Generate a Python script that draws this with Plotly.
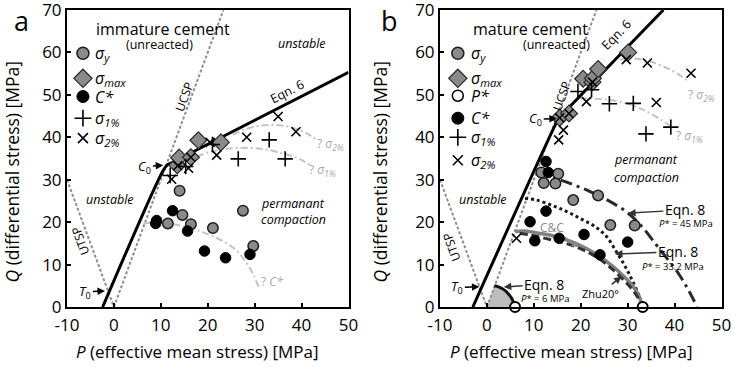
import plotly.graph_objects as go

# ---------------- data: panel a (immature cement) ----------------
a_sy_P = [14.0, 14.6, 11.5, 16.4, 21.1, 27.5, 29.7]
a_sy_Q = [27.4, 21.7, 19.7, 19.5, 18.6, 22.7, 14.4]
a_cs_P = [9.1, 8.9, 12.5, 15.7, 19.3, 23.8, 29.0]
a_cs_Q = [20.4, 19.7, 22.7, 17.9, 13.2, 11.6, 12.4]
a_smax_P = [13.5, 13.9, 16.4, 18.0, 22.8]
a_smax_Q = [33.4, 35.2, 35.3, 39.3, 38.8]
a_s1_P = [12.0, 15.3, 21.0, 26.5, 33.1, 36.5]
a_s1_Q = [31.0, 33.1, 38.3, 34.9, 39.4, 34.9]
a_s2_P = [12.3, 13.6, 15.9, 16.4, 20.5, 21.9, 28.3, 35.0, 38.8]
a_s2_Q = [30.1, 33.3, 32.7, 35.3, 38.8, 35.8, 40.0, 44.9, 41.3]

a_eq6_P = [-2.4, 10.5, 11.3, 12.3, 50.0]
a_eq6_Q = [0.0, 32.2, 33.4, 34.0, 55.3]
a_s2c_P = [25.4, 28.0, 31.0, 34.7, 38.0, 41.0, 43.2]
a_s2c_Q = [40.6, 41.9, 42.7, 42.9, 42.3, 41.0, 39.4]
a_s1c_P = [17.7, 20.0, 24.0, 28.0, 32.0, 36.0, 39.5, 41.8]
a_s1c_Q = [35.4, 36.4, 37.3, 37.5, 37.2, 36.2, 34.9, 33.5]
a_csc_P = [6.3, 9.0, 12.0, 15.5, 19.0, 22.0, 24.5, 26.5, 28.3, 29.7, 30.8]
a_csc_Q = [19.7, 19.9, 19.6, 18.9, 17.6, 16.2, 14.7, 12.9, 10.3, 7.7, 4.8]

# ---------------- data: panel b (mature cement) ----------------
b_sy_P = [11.6, 15.2, 12.1, 14.6, 18.4, 23.7, 26.3, 31.5]
b_sy_Q = [31.7, 31.4, 29.2, 29.1, 25.2, 26.3, 19.3, 19.2]
b_cs_P = [12.6, 13.1, 12.6, 9.2, 15.4, 10.2, 20.7, 24.1, 30.0]
b_cs_Q = [34.3, 31.7, 22.6, 20.1, 16.2, 15.6, 17.1, 12.3, 15.3]
b_smax_P = [15.5, 17.5, 20.5, 22.5, 22.6, 23.7, 30.1]
b_smax_Q = [44.6, 45.6, 53.8, 53.0, 53.9, 56.1, 60.0]
b_s1_P = [19.4, 22.3, 26.1, 31.2, 33.9, 39.2]
b_s1_Q = [50.8, 51.2, 47.9, 48.0, 40.8, 42.4]
b_s2_P = [15.5, 17.5, 22.5, 29.7, 34.2, 43.5, 36.1, 21.2, 16.3, 15.3, 6.3]
b_s2_Q = [44.6, 45.6, 53.0, 58.3, 57.5, 55.1, 48.2, 48.4, 41.7, 39.4, 16.2]
b_pstar_P = [6.0, 33.2]
b_pstar_Q = [0.0, 0.0]

b_eq6_P = [-3.0, 14.6, 15.3, 16.2, 37.6]
b_eq6_Q = [0.0, 43.0, 44.4, 45.5, 70.0]
b_s2c_P = [28.3, 30.0, 32.0, 35.0, 38.0, 41.0, 42.9]
b_s2c_Q = [58.3, 58.5, 58.5, 57.8, 56.5, 54.7, 53.1]
b_s1c_P = [19.8, 23.0, 26.2, 29.0, 32.0, 34.0, 37.0, 39.3]
b_s1c_Q = [49.2, 49.1, 48.8, 48.2, 47.1, 46.1, 44.2, 42.5]
b_eq845_P = [10.6, 14.0, 18.0, 22.0, 26.0, 30.0, 33.0, 36.0, 38.5, 41.0, 43.0, 44.8]
b_eq845_Q = [31.5, 30.5, 29.0, 27.2, 25.0, 22.2, 19.0, 14.8, 11.3, 7.6, 3.9, 0.0]
b_eq833_P = [8.1, 10.6, 14.0, 17.0, 20.0, 23.0, 25.5, 27.6, 29.5, 31.0, 32.3, 33.2]
b_eq833_Q = [25.6, 25.2, 23.9, 22.5, 20.8, 19.0, 16.6, 13.0, 9.5, 6.2, 3.0, 0.0]
b_cc_P = [6.0, 8.1, 11.0, 14.8, 18.0, 21.2, 24.0, 26.9, 29.2, 31.2, 32.4, 33.2]
b_cc_Q = [17.8, 17.9, 17.4, 16.6, 15.4, 13.8, 11.9, 9.5, 7.2, 4.8, 2.6, 0.0]
b_zhu_P = [7.0, 9.0, 12.0, 15.0, 18.0, 21.0, 24.0, 26.7, 29.0, 31.0, 32.3, 33.1]
b_zhu_Q = [17.4, 17.0, 16.3, 15.5, 14.6, 13.2, 11.3, 8.9, 6.5, 4.1, 2.0, 0.0]
b_eq86_P = [1.6, 2.6, 3.6, 4.5, 5.3, 6.0]
b_eq86_Q = [5.0, 4.7, 4.1, 3.2, 2.0, 0.0]

# failure-envelope guide lines (both panels)
ucsp_P = [0.0, 23.33]
ucsp_Q = [0.0, 70.0]
utsp_P = [-10.0, 0.0]
utsp_Q = [30.0, 0.0]

x_ticks = [-10, 0, 10, 20, 30, 40, 50]
x_ticklabels = ["-10", "0", "10", "20", "30", "40", "50"]
y_ticks = [0, 10, 20, 30, 40, 50, 60, 70]
y_ticklabels = ["0", "10", "20", "30", "40", "50", "60", "70"]

FONT = "Open Sans"
GRAYM = "#8a8a8a"
fig = go.Figure()


def line(P, Q, ax, color, width, dash="solid", shape="linear"):
    fig.add_trace(go.Scatter(x=P, y=Q, xaxis=ax[0], yaxis=ax[1], mode="lines",
                             line=dict(color=color, width=width, dash=dash, shape=shape),
                             showlegend=False, hoverinfo="skip"))


def pts(P, Q, ax, symbol, size, fill, lcolor, lwidth, clip=True):
    fig.add_trace(go.Scatter(x=P, y=Q, xaxis=ax[0], yaxis=ax[1], mode="markers",
                             marker=dict(symbol=symbol, size=size, color=fill,
                                         line=dict(color=lcolor, width=lwidth)),
                             cliponaxis=clip, showlegend=False, hoverinfo="skip"))


A = ("x", "y")
B = ("x2", "y2")

# ---- panel a lines
line(ucsp_P, ucsp_Q, A, "#8f8f8f", 2, "3px,2px")
line(utsp_P, utsp_Q, A, "#8f8f8f", 2, "3px,2px")
line(a_s2c_P, a_s2c_Q, A, "#c4c4c4", 2, "7px,3px,2px,3px", "spline")
line(a_s1c_P, a_s1c_Q, A, "#c4c4c4", 2, "7px,3px,2px,3px", "spline")
line(a_csc_P, a_csc_Q, A, "#c4c4c4", 2, "7px,3px,2px,3px", "spline")
line(a_eq6_P, a_eq6_Q, A, "black", 3, "solid", "spline")

# ---- panel b lines
fig.add_trace(go.Scatter(x=[0.0] + b_eq86_P + [0.0], y=[0.0] + b_eq86_Q + [0.0],
                         xaxis="x2", yaxis="y2", mode="lines", fill="toself",
                         fillcolor="#bdbdbd", line=dict(width=0), showlegend=False,
                         hoverinfo="skip"))
line(ucsp_P, ucsp_Q, B, "#8f8f8f", 2, "3px,2px")
line(utsp_P, utsp_Q, B, "#8f8f8f", 2, "3px,2px")
line(b_s2c_P, b_s2c_Q, B, "#c4c4c4", 2, "7px,3px,2px,3px", "spline")
line(b_s1c_P, b_s1c_Q, B, "#c4c4c4", 2, "7px,3px,2px,3px", "spline")
line(b_eq845_P, b_eq845_Q, B, "#2a2a2a", 3, "12px,5px,3px,5px", "spline")
line(b_eq833_P, b_eq833_Q, B, "#1a1a1a", 3, "3px,3px", "spline")
line(b_cc_P, b_cc_Q, B, "#808080", 3.5, "solid", "spline")
line(b_zhu_P, b_zhu_Q, B, "#333333", 3, "8px,4px", "spline")
line(b_eq86_P, b_eq86_Q, B, "#111111", 3, "solid", "spline")
line(b_eq6_P, b_eq6_Q, B, "black", 3, "solid", "spline")

# ---- markers
for ax, sy, cs, smax, s1, s2 in [
    (A, (a_sy_P, a_sy_Q), (a_cs_P, a_cs_Q), (a_smax_P, a_smax_Q), (a_s1_P, a_s1_Q), (a_s2_P, a_s2_Q)),
    (B, (b_sy_P, b_sy_Q), (b_cs_P, b_cs_Q), (b_smax_P, b_smax_Q), (b_s1_P, b_s1_Q), (b_s2_P, b_s2_Q)),
]:
    pts(sy[0], sy[1], ax, "circle", 10.5, GRAYM, "#1e1e1e", 1.5)
    pts(cs[0], cs[1], ax, "circle", 10.5, "black", "black", 1)
    pts(smax[0], smax[1], ax, "diamond", 13, GRAYM, "#2a2a2a", 1.2)
    pts(s1[0], s1[1], ax, "cross-thin", 11, "black", "black", 1.6)
    pts(s2[0], s2[1], ax, "x-thin", 9, "black", "black", 1.6)
pts(b_pstar_P, b_pstar_Q, B, "circle", 10, "white", "black", 2, clip=False)

# ---- legends (drawn inside each panel)
leg_a = [("circle", 12, GRAYM, "#1e1e1e", 1.5, "<i>σ<sub>y</sub></i>"),
         ("diamond", 14, GRAYM, "#2a2a2a", 1.2, "<i>σ<sub>max</sub></i>"),
         ("circle", 12, "black", "black", 1, "<i>C*</i>"),
         ("cross-thin", 12, "black", "black", 1.6, "<i>σ<sub>1%</sub></i>"),
         ("x-thin", 10, "black", "black", 1.6, "<i>σ<sub>2%</sub></i>")]
leg_b = [leg_a[0], leg_a[1], ("circle", 11, "white", "black", 1.5, "<i>P*</i>"),
         leg_a[2], leg_a[3], leg_a[4]]
leg_a_Q = [59.8, 53.9, 49.6, 44.5, 39.8]
leg_b_Q = [59.8, 53.9, 49.8, 44.5, 40.0, 34.6]

annotations = []


def ann(x, y, text, size, xref="x", yref="y", color="black", angle=0, xanchor="center", yanchor="middle"):
    annotations.append(dict(x=x, y=y, xref=xref, yref=yref, text=text, showarrow=False,
                            font=dict(family=FONT, size=size, color=color), textangle=angle,
                            xanchor=xanchor, yanchor=yanchor))


def arrow(x, y, ax_, ay_, text, size, xref="x", yref="y", color="black", aw=1.5):
    annotations.append(dict(x=x, y=y, ax=ax_, ay=ay_, xref=xref, yref=yref, axref=xref, ayref=yref,
                            text=text, showarrow=True, arrowhead=2, arrowsize=1, arrowwidth=aw,
                            arrowcolor=color, font=dict(family=FONT, size=size, color="black")))


for ax, items, qs, mx, lx in [(A, leg_a, leg_a_Q, -6.6, -4.4), (B, leg_b, leg_b_Q, -6.2, -3.9)]:
    for (sym, sz, fc, lc, lw, lab), q in zip(items, qs):
        pts([mx], [q], ax, sym, sz, fc, lc, lw)
        ann(lx, q, lab, 16, ax[0], ax[1], xanchor="left")

# ---- panel a texts
ann(10.5, 65.6, "immature cement", 16)
ann(9.8, 61.8, "(unreacted)", 12.5)
ann(40.0, 62.2, "<i>unstable</i>", 12.5)
ann(-0.8, 25.4, "<i>unstable</i>", 12.5)
ann(38.2, 24.4, "<i>permanant</i>", 12.5)
ann(38.2, 20.7, "<i>compaction</i>", 12.5)
ann(36.9, 50.9, "Eqn. 6", 12.5, angle=-27)
ann(15.0, 49.6, "UCSP", 12, angle=-70)
ann(-7.1, 15.6, "UTSP", 12, angle=-110)
ann(46.1, 38.4, "? <i>σ<sub>2%</sub></i>", 12, color="#a8a8a8")
ann(44.5, 32.3, "? <i>σ<sub>1%</sub></i>", 12, color="#a8a8a8")
ann(33.6, 6.0, "? <i>C*</i>", 12, color="#a8a8a8")
arrow(10.5, 33.4, 6.6, 33.1, "<i>C</i><sub>0</sub>", 13)
arrow(-1.9, 3.8, -6.1, 3.6, "<i>T</i><sub>0</sub>", 13)

# ---- panel b texts
ann(9.2, 65.6, "mature cement", 16, "x2", "y2")
ann(14.8, 61.8, "(unreacted)", 12.5, "x2", "y2")
ann(-0.8, 25.4, "<i>unstable</i>", 12.5, "x2", "y2")
ann(34.0, 34.7, "<i>permanant</i>", 12.5, "x2", "y2")
ann(34.0, 30.6, "<i>compaction</i>", 12.5, "x2", "y2")
ann(27.6, 64.3, "Eqn. 6", 12.5, "x2", "y2", angle=-46)
ann(15.9, 49.6, "UCSP", 12, "x2", "y2", angle=-70)
ann(-7.5, 14.2, "UTSP", 12, "x2", "y2", angle=-110)
ann(45.7, 50.0, "? <i>σ<sub>2%</sub></i>", 12, "x2", "y2", color="#a8a8a8")
ann(43.2, 40.2, "? <i>σ<sub>1%</sub></i>", 12, "x2", "y2", color="#a8a8a8")
arrow(14.9, 44.4, 10.4, 44.3, "<i>C</i><sub>0</sub>", 13, "x2", "y2")
arrow(-1.6, 4.8, -6.3, 4.6, "<i>T</i><sub>0</sub>", 13, "x2", "y2")
arrow(30.1, 22.1, 42.2, 22.9, "Eqn. 8", 14, "x2", "y2", color="#333333")
ann(42.5, 19.7, "<i>P</i>* = 45 MPa", 9.5, "x2", "y2")
arrow(27.3, 12.5, 40.7, 13.0, "Eqn. 8", 14, "x2", "y2", color="#333333")
ann(39.7, 9.5, "<i>P</i>* = 33.2 MPa", 9.5, "x2", "y2")
arrow(3.6, 4.7, 12.2, 5.4, "Eqn. 8", 14, "x2", "y2", color="#333333")
ann(12.4, 2.0, "<i>P</i>* = 6 MPa", 9.5, "x2", "y2")
arrow(19.5, 14.1, 13.8, 18.8, "C&amp;C", 12, "x2", "y2", color="#8a8a8a", aw=1.3)
annotations[-1]["font"]["color"] = "#8a8a8a"
arrow(28.7, 7.2, 24.2, 3.2, "Zhu20°", 11, "x2", "y2", color="#333333")

# ---- axis titles & panel letters (paper coordinates)
W, H = 732.0, 367.0
for cx in (11.0, 379.0):
    ann(cx / W, 1 - 171.5 / H, "<i>Q</i> (differential stress) [MPa]", 17.5, "paper", "paper", angle=-90)
for cx in (196.7, 570.5):
    ann(cx / W, 1 - 351.7 / H, "<i>P</i> (effective mean stress) [MPa]", 17, "paper", "paper")
ann(21.0 / W, 1 - 20.0 / H, "a", 27, "paper", "paper")
ann(389.0 / W, 1 - 20.0 / H, "b", 27, "paper", "paper")

axis_common = dict(showgrid=False, zeroline=False, showline=True, mirror=True, linecolor="black",
                   linewidth=2, ticks="inside", ticklen=4, tickwidth=1.5, tickcolor="black",
                   ticklabeloverflow="allow", automargin=False,
                   tickfont=dict(family=FONT, size=17, color="black"))
ya = (H - 307.0) / H
yb = (H - 10.0) / H
fig.update_layout(
    width=732, height=367, margin=dict(l=0, r=0, t=0, b=0, autoexpand=False),
    paper_bgcolor="white", plot_bgcolor="white", showlegend=False,
    xaxis=dict(domain=[67 / W, 348.5 / W], range=[-10, 50], tickvals=x_ticks, ticktext=x_ticklabels,
               anchor="y", ticklabelstandoff=2, **axis_common),
    yaxis=dict(domain=[ya, yb], range=[0, 70], tickvals=y_ticks, ticktext=y_ticklabels,
               anchor="x", ticklabelstandoff=0, **axis_common),
    xaxis2=dict(domain=[440 / W, 721.5 / W], range=[-10, 50], tickvals=x_ticks, ticktext=x_ticklabels,
                anchor="y2", ticklabelstandoff=2, **axis_common),
    yaxis2=dict(domain=[ya, yb], range=[0, 70], tickvals=y_ticks, ticktext=y_ticklabels,
                anchor="x2", ticklabelstandoff=0, **axis_common),
    annotations=annotations,
)
fig.write_html("out.html")
